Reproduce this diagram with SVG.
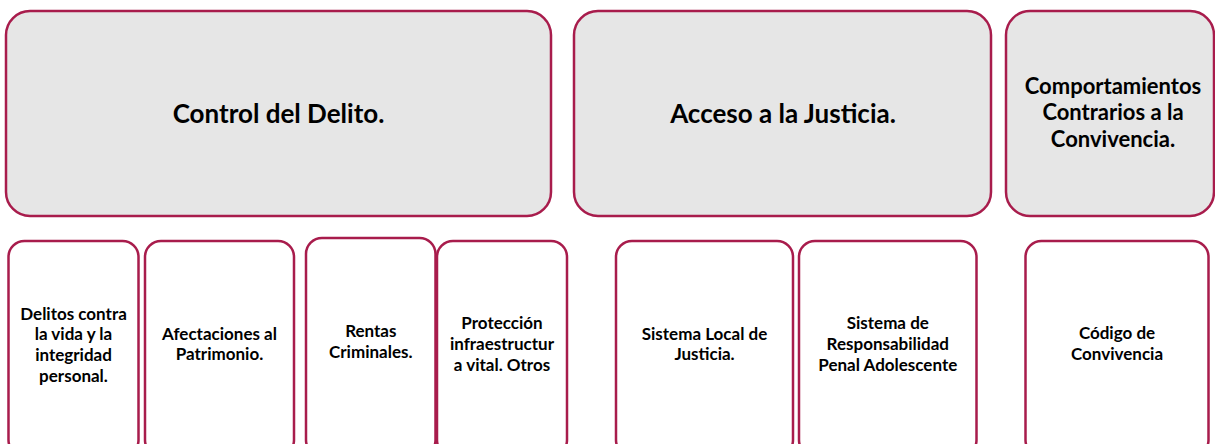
<svg xmlns="http://www.w3.org/2000/svg" width="1215" height="444" viewBox="0 0 1215 444">
<style>
.top{fill:#E6E6E6;stroke:#A81C4C;stroke-width:2.5}
.sub{fill:#FFFFFF;stroke:#A81C4C;stroke-width:2.5}
text{font-family:Lato,"Liberation Sans",sans-serif;font-weight:bold;fill:#000;text-anchor:middle}
.t0{font-size:26px}
.t1{font-size:22px}
.t2{font-size:17px}
</style>
<rect width="1215" height="444" fill="#FFFFFF"/>
<g id="connectors"></g>
<g id="control-delito">
<rect class="top" x="6" y="11" width="545" height="205" rx="24"/>
<text class="t0" x="278.5" y="122.5">Control del Delito.</text>
</g>
<g id="acceso-justicia">
<rect class="top" x="574" y="11" width="417" height="205" rx="24"/>
<text class="t0" x="783" y="122.5">Acceso a la Justicia.</text>
</g>
<g id="comportamientos">
<rect class="top" x="1006" y="11" width="208" height="205" rx="24"/>
<text class="t1" x="1113" y="94">Comportamientos</text>
<text class="t1" x="1113" y="120">Contrarios a la</text>
<text class="t1" x="1113" y="146.5">Convivencia.</text>
</g>
<g id="delitos-vida">
<rect class="sub" x="8.5" y="241" width="130" height="215" rx="16"/>
<text class="t2" x="73.5" y="319.5">Delitos contra</text>
<text class="t2" x="73.5" y="340">la vida y la</text>
<text class="t2" x="73.5" y="361">integridad</text>
<text class="t2" x="73.5" y="381.5">personal.</text>
</g>
<g id="patrimonio">
<rect class="sub" x="145" y="241" width="149" height="215" rx="16"/>
<text class="t2" x="219.5" y="339.5">Afectaciones al</text>
<text class="t2" x="219.5" y="360">Patrimonio.</text>
</g>
<g id="rentas">
<rect class="sub" x="306" y="238" width="129.5" height="218" rx="16"/>
<text class="t2" x="370.8" y="336.7">Rentas</text>
<text class="t2" x="370.8" y="357.7">Criminales.</text>
</g>
<g id="proteccion">
<rect class="sub" x="437" y="241" width="130" height="215" rx="16"/>
<text class="t2" x="502" y="329.3">Protección</text>
<text class="t2" x="502" y="350">infraestructur</text>
<text class="t2" x="502" y="370.7">a vital. Otros</text>
</g>
<g id="sistema-local">
<rect class="sub" x="616" y="241" width="177" height="215" rx="16"/>
<text class="t2" x="704.5" y="340">Sistema Local de</text>
<text class="t2" x="704.5" y="360">Justicia.</text>
</g>
<g id="responsabilidad-penal">
<rect class="sub" x="799" y="241" width="177.5" height="215" rx="16"/>
<text class="t2" x="887.8" y="329.3">Sistema de</text>
<text class="t2" x="887.8" y="350">Responsabilidad</text>
<text class="t2" x="887.8" y="371">Penal Adolescente</text>
</g>
<g id="codigo-convivencia">
<rect class="sub" x="1025.5" y="241" width="183" height="215" rx="16"/>
<text class="t2" x="1117" y="339.3">Código de</text>
<text class="t2" x="1117" y="360">Convivencia</text>
</g>
</svg>
